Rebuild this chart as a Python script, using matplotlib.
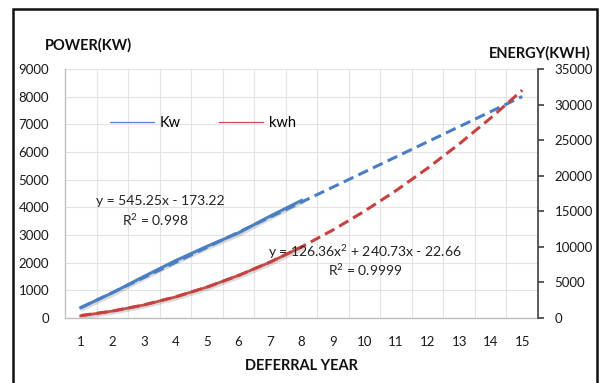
import numpy as np
import matplotlib.pyplot as plt
import matplotlib.patheffects as pe
from matplotlib.patches import Rectangle

plt.rcParams['font.family'] = ['Lato', 'DejaVu Sans']
plt.rcParams['mathtext.fontset'] = 'custom'
plt.rcParams['mathtext.rm'] = 'Lato'
plt.rcParams['mathtext.default'] = 'rm'

# deferral years and measured series (years 1-8)
years = [1, 2, 3, 4, 5, 6, 7, 8]
power_kw = [375, 910, 1500, 2070, 2590, 3075, 3680, 4250]
energy_kwh = [300, 970, 1830, 2950, 4340, 5980, 7840, 9990]

# trendline coefficients (highest power first) as given by the fit labels
kw_fit = [545.25, -173.22]
kwh_fit = [126.36, 240.73, -22.66]
trend_years = np.arange(1, 16)

xticks = list(range(1, 16))

blue = '#4f81bd'
red = '#c0504d'
blue_dash = '#4a7ec4'
red_dash = '#c8413f'

fig = plt.figure(figsize=(6.01, 3.83), dpi=100)
ax = fig.add_axes([65 / 601, 1 - 318 / 383, (538 - 65) / 601, (318 - 69) / 383])
ax2 = ax.twinx()

shadow = [pe.SimpleLineShadow(offset=(1.0, -1.5), alpha=0.18, shadow_color='#333333'), pe.Normal()]

# measured data
ax.plot(years, power_kw, color=blue, lw=2.2, path_effects=shadow, zorder=3)
ax2.plot(years, energy_kwh, color=red, lw=2.0, path_effects=shadow, zorder=3)

# trendlines over the full 15 years
ax.plot(trend_years, np.polyval(kw_fit, trend_years), color=blue_dash, lw=2.2,
        dashes=(3.5, 1.8), zorder=4)
ax2.plot(trend_years, np.polyval(kwh_fit, trend_years), color=red_dash, lw=2.2,
         dashes=(3.5, 1.8), zorder=4)

ax.set_xlim(0.5, 15.5)
ax.set_ylim(0, 9000)
ax2.set_ylim(0, 35000)
ax.set_xticks(xticks)
ax.set_yticks(range(0, 9001, 1000))
ax2.set_yticks(range(0, 35001, 5000))

# grid: horizontal on every 1000, vertical between categories
ax.set_xticks(np.arange(1.5, 15, 1), minor=True)
ax.grid(True, which='minor', axis='x', color='#e3e3e3', lw=0.8)
ax.grid(True, which='major', axis='y', color='#e3e3e3', lw=0.8)
ax.set_axisbelow(True)

for s in ['top', 'right']:
    ax.spines[s].set_visible(False)
for s in ['left', 'bottom']:
    ax.spines[s].set_color('#bfbfbf')
    ax.spines[s].set_linewidth(1.0)
for s in ['top', 'left', 'bottom']:
    ax2.spines[s].set_visible(False)
ax2.spines['right'].set_color('#404040')
ax2.spines['right'].set_linewidth(1.2)

ax.tick_params(axis='both', which='both', length=0, labelsize=9.5, colors='#1a1a1a')
ax.tick_params(axis='y', pad=11.5)
ax.tick_params(axis='x', pad=13)
ax2.tick_params(axis='y', direction='out', length=4, width=1.2, color='#404040',
                labelsize=9.5, labelcolor='#1a1a1a', pad=8)

fig.text(45 / 601, 1 - 45 / 383, 'POWER(KW)', fontsize=10.5, fontweight='bold',
         ha='left', va='center', color='#111111')
fig.text(591 / 601, 1 - 53 / 383, 'ENERGY(KWH)', fontsize=10.5, fontweight='bold',
         ha='right', va='center', color='#111111')
fig.text(301 / 601, 1 - 366 / 383, 'DEFERRAL YEAR', fontsize=10.5, fontweight='bold',
         ha='center', va='center', color='#111111')

# fit equations
fig.text(160 / 601, 1 - 201 / 383, 'y = 545.25x - 173.22', fontsize=10, ha='center', va='center', color='#222222')
fig.text(155 / 601, 1 - 220 / 383, 'R$^2$ = 0.998', fontsize=10, ha='center', va='center', color='#222222')
fig.text(365 / 601, 1 - 252 / 383, 'y = 126.36x$^2$ + 240.73x - 22.66', fontsize=10, ha='center', va='center', color='#222222')
fig.text(365 / 601, 1 - 270 / 383, 'R$^2$ = 0.9999', fontsize=10, ha='center', va='center', color='#222222')

leg_lines = [plt.Line2D([], [], color=blue, lw=0.9), plt.Line2D([], [], color=red, lw=0.9)]
fig.legend(leg_lines, ['Kw', 'kwh'], loc='center', bbox_to_anchor=(203 / 601, 1 - 123 / 383),
           ncol=2, frameon=False, fontsize=10.5, handlelength=3.0, handletextpad=0.4,
           columnspacing=2.6)

# chart border
fig.patches.append(Rectangle((13 / 601, -0.05), (597 - 13) / 601, 1.05 - 9 / 383,
                             transform=fig.transFigure, fill=False, edgecolor='#111111', lw=1.8))

fig.savefig('out.png', dpi=100)
